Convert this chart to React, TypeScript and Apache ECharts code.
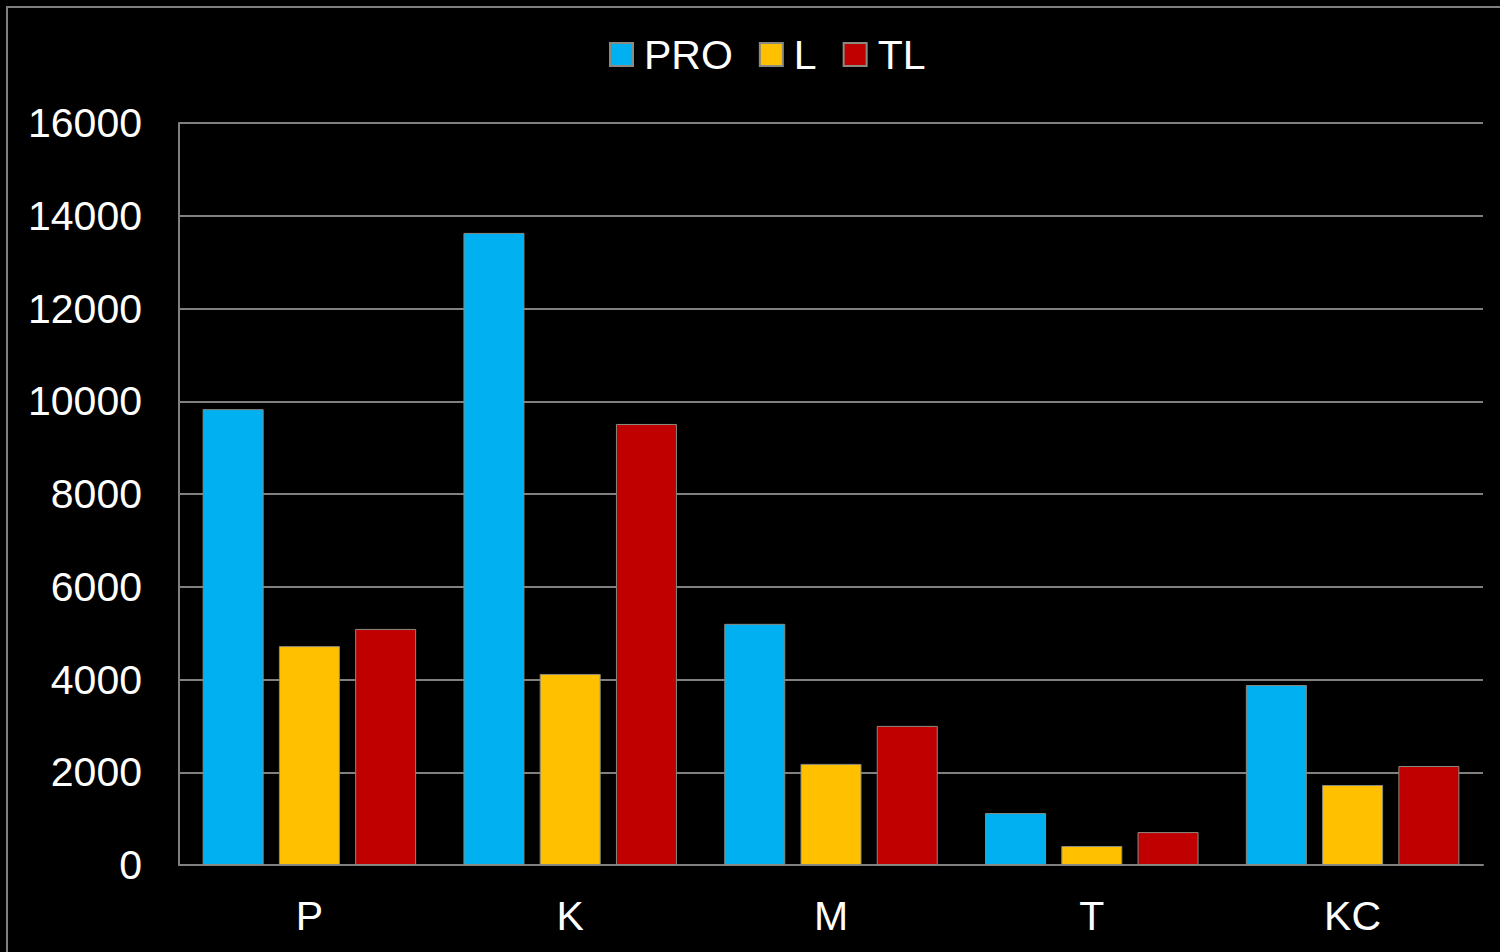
import React, { useEffect, useRef } from "react";
import * as echarts from "echarts";

const categories = ["P", "K", "M", "T", "KC"];
const seriesNames = ["PRO", "L", "TL"];
const proValues = [9830, 13630, 5200, 1120, 3880];
const lValues = [4720, 4120, 2180, 410, 1725];
const tlValues = [5090, 9510, 3000, 710, 2135];
const colors = ["#00B0F0", "#FFC000", "#C00000"];

export default function App() {
  const ref = useRef<HTMLDivElement>(null);
  useEffect(() => {
    document.body.style.margin = "0";
    document.body.style.background = "#000";
    const chart = echarts.init(ref.current!, null, { renderer: "svg" });
    const font = "Liberation Sans, Arial, sans-serif";
    const data = [proValues, lValues, tlValues];
    chart.setOption({
      animation: false,
      backgroundColor: "#000",
      textStyle: { fontFamily: font },
      graphic: [
        {
          type: "polyline",
          shape: { points: [[7, 960], [7, 7], [1510, 7]] },
          style: { stroke: "#7f7f7f", lineWidth: 2, fill: "none" },
          silent: true,
        },
      ],
      legend: {
        top: 29,
        left: 604,
        itemWidth: 23,
        itemHeight: 23,
        itemGap: 26,
        icon: "rect",
        textStyle: { color: "#fff", fontSize: 41, fontFamily: font, padding: [0, 0, 0, 6] },
        data: seriesNames,
      },
      grid: { left: 179, right: 17, top: 123, bottom: 87, containLabel: false },
      xAxis: {
        type: "category",
        data: categories,
        axisLine: { show: true, lineStyle: { color: "#808080", width: 2 } },
        axisTick: { show: false },
        axisLabel: { color: "#fff", fontSize: 41, margin: 30, fontFamily: font },
      },
      yAxis: {
        type: "value",
        min: 0,
        max: 16000,
        interval: 2000,
        axisLine: { show: true, lineStyle: { color: "#808080", width: 2 } },
        axisTick: { show: false },
        axisLabel: {
          color: "#fff",
          fontSize: 41,
          margin: 37,
          fontFamily: font,
          formatter: (v: number) => String(v),
        },
        splitLine: { show: true, lineStyle: { color: "#808080", width: 2 } },
      },
      series: seriesNames.map((name, i) => ({
        name,
        type: "bar",
        data: data[i],
        barWidth: 61,
        barGap: "25%",
        itemStyle: { color: colors[i], borderColor: "#8a8a80", borderWidth: 1 },
      })),
    });
    return () => chart.dispose();
  }, []);
  return <div ref={ref} style={{ width: 1500, height: 952 }} />;
}
